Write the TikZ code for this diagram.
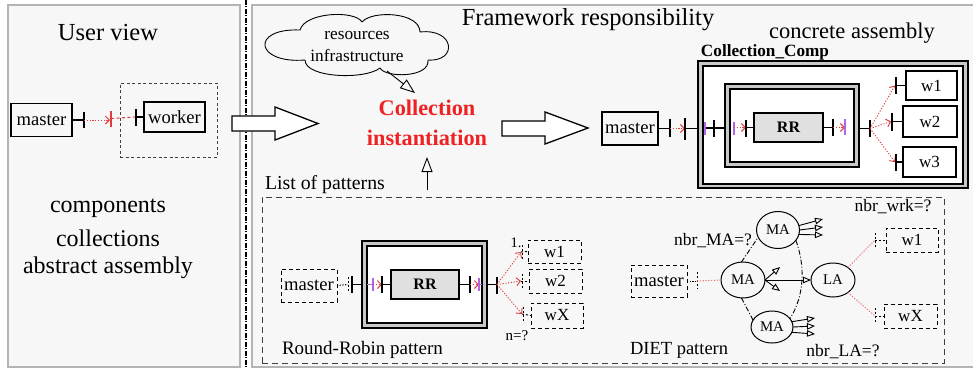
\documentclass[tikz,border=0pt]{standalone}
\usepackage{fontspec}
\setmainfont{Liberation Serif}
\usetikzlibrary{shapes.geometric,shapes.symbols,arrows.meta}
\definecolor{panelbg}{HTML}{F7F7F7}
\definecolor{panelln}{HTML}{B4B4B4}
\definecolor{dotred}{HTML}{E03C3C}
\definecolor{lightred}{HTML}{F07070}
\definecolor{titlered}{HTML}{EE2222}
\definecolor{purp}{HTML}{B266E6}
\definecolor{bandgray}{HTML}{C8C8C8}
\definecolor{rrgray}{HTML}{E0E0E0}
\definecolor{dashgray}{HTML}{404040}
\newcommand\fsz[1]{\fontsize{#1}{#1}\selectfont}
\begin{document}
\begin{tikzpicture}[x=1pt,y=-1pt,
  every node/.style={inner sep=0pt,outer sep=0pt},
  sbox/.style={draw, line width=1.1pt},
  dbox/.style={draw, line width=1pt, dash pattern=on 4pt off 3pt},
  wire/.style={line width=1.1pt},
  pbar/.style={line width=1.2pt},
  ppbar/.style={line width=1.2pt, draw=purp},
  dbar/.style={line width=1pt, dash pattern=on 2pt off 2pt},
  bdot/.style={line width=1pt, dash pattern=on 1.2pt off 1.5pt},
  reddot/.style={draw=dotred, line width=0.9pt, dash pattern=on 1.2pt off 1.6pt, -{Straight Barb[length=4pt,width=8pt]}},
  ldot/.style={draw=lightred, line width=1pt, dash pattern=on 1.2pt off 1.6pt},
  hollow/.style={line width=0.9pt, -{Triangle[open,length=15pt,width=11pt]}},
  small/.style={line width=0.9pt, -{Triangle[open,length=8pt,width=6.5pt]}},
  dashdot/.style={line width=0.9pt, dash pattern=on 5pt off 2pt on 1pt off 2pt},
  bigarrow/.style={draw, fill=white, line width=1.3pt, line join=miter},
  dbl/.style={draw, line width=1.3pt},
  ell/.style={ellipse, draw, line width=1pt, font=\fsz{14.8}}
]
\useasboundingbox (0,0) rectangle (973,368);
\clip (0,0) rectangle (973,368);
% panels
\draw[panelln, fill=panelbg, line width=1.3pt] (8,5) rectangle (240,367);
\draw[panelln, fill=panelbg, line width=1.3pt] (252,5) rectangle (990,367);
\draw[line width=1.3pt, dash pattern=on 4.5pt off 1.5pt on 1.2pt off 1.8pt] (246,0) -- (246,368);

% ---------- user view ----------
\node[font=\fsz{24.5}] (uv) at (108,33) {User view};
\node[draw=dashgray, dash pattern=on 3pt off 2.5pt, line width=0.9pt, minimum width=97pt, minimum height=74pt] (ucoll) at (168.5,120) {};
\node[sbox, minimum width=61pt, minimum height=33pt, font=\fsz{18.6}] (um) at (41.5,120) {master};
\node[sbox, minimum width=61pt, minimum height=30pt, font=\fsz{18.6}] (uw) at (174.5,117) {worker};
\coordinate (u1) at (84,120);
\coordinate (u2) at (110,120);
\coordinate (u2b) at (111,118.5);
\coordinate (u3) at (136,117);
\draw[wire] (um.east) -- (u1);
\draw[pbar] (84,112) -- (84,128);
\draw[reddot] (u1) -- (u2);
\draw[pbar, draw=dotred] (111,111) -- (111,127);
\draw[dotred, line width=1.1pt, dash pattern=on 3pt off 2.5pt] (u2b) -- (u3);
\draw[pbar] (136,109) -- (136,126);
\draw[wire] (u3) -- (uw.west);
\node[font=\fsz{24}] (t1) at (108,208) {components};
\node[font=\fsz{24}] (t2) at (108,238) {collections};
\node[font=\fsz{24}] (t3) at (108,268) {abstract assembly};

% big arrows
\draw[bigarrow] (232,116) -- (275,116) -- (275,107) -- (318,123.5) -- (275,140) -- (275,131) -- (232,131) -- cycle;
\draw[bigarrow] (502,121) -- (545,121) -- (545,112) -- (588,128) -- (545,144) -- (545,136) -- (502,136) -- cycle;

% ---------- framework ----------
\node[font=\fsz{24.5}] (fr) at (588,20) {Framework responsibility};
% cloud drawn as a path
\draw[line width=0.9pt, line join=round]
  (300,30) .. controls (305,12) and (355,10) .. (362,22)
  .. controls (372,10) and (420,12) .. (420,32)
  .. controls (455,28) and (458,62) .. (428,60)
  .. controls (430,78) and (385,78) .. (380,68)
  .. controls (365,80) and (305,78) .. (305,60)
  .. controls (255,64) and (250,28) .. (300,30) -- cycle;
\node[align=center, font=\fontsize{17.3}{22}\selectfont] (cloudtxt) at (357,47) {resources\\infrastructure};
\node[font=\fontsize{22.3}{30}\selectfont\bfseries, text=titlered, align=center] (ci) at (427,123) {Collection\\instantiation};
\coordinate (cloudstart) at (387,71);
\coordinate (cloudtip) at (415,93);
\draw[hollow] (cloudstart) -- (cloudtip);
\coordinate (upstart) at (427,190);
\coordinate (upend) at (427,157);
\draw[hollow] (upstart) -- (upend);

% ---------- concrete assembly ----------
\node[font=\fsz{22.5}] (ca) at (852,33) {concrete assembly};
\node[font=\fsz{17.2}\bfseries] (ccl) at (765,52) {Collection\_Comp};
\node[dbl, fill=bandgray, minimum width=270pt, minimum height=127pt] (cco) at (833,124.5) {};
\node[dbl, fill=white, minimum width=260pt, minimum height=118pt] (cci) at (833,125) {};
\node[dbl, fill=bandgray, minimum width=134pt, minimum height=83pt] (rro) at (792,125.5) {};
\node[dbl, fill=white, minimum width=124pt, minimum height=73pt] (rri) at (792,125.5) {};
\node[dbl, fill=rrgray, minimum width=69pt, minimum height=29pt, font=\fsz{16}\bfseries] (rr) at (788.5,127.5) {RR};
\node[sbox, minimum width=56pt, minimum height=33pt, font=\fsz{18.6}] (cm) at (630,128.5) {master};
\node[sbox, minimum width=51pt, minimum height=29pt, font=\fsz{17}] (cw1) at (931.5,85.5) {w1};
\node[sbox, minimum width=54pt, minimum height=31pt, font=\fsz{17}] (cw2) at (930,121.5) {w2};
\node[sbox, minimum width=53pt, minimum height=30pt, font=\fsz{17}] (cw3) at (929.5,162) {w3};
\coordinate (c1) at (670,128.5);
\coordinate (c2) at (685,128.5);
\draw[wire] (cm.east) -- (c1);
\draw[pbar] (670,119) -- (670,137);
\draw[reddot] (c1) -- (c2);
\draw[pbar] (685,118) -- (685,140);
\draw[wire] (c2) -- (cco.west |- c2);
\coordinate (c3) at (705,128);
\coordinate (c4) at (714,128);
\draw[wire] (c3) -- (rro.west |- c3);
\draw[ppbar] (705,122) -- (705,135);
\draw[pbar] (714,120) -- (714,137);
\coordinate (c5) at (734,127.5);
\coordinate (c6) at (746,127.5);
\draw[ppbar] (734,122) -- (734,135);
\draw[reddot] (c5) -- (c6);
\draw[pbar] (746,120) -- (746,137);
\draw[wire] (c6) -- (rr.west);
\coordinate (c7) at (833,127.5);
\coordinate (c8) at (845,127.5);
\draw[wire] (rr.east) -- (c7);
\draw[pbar] (833,119) -- (833,136);
\draw[reddot] (c7) -- (c8);
\draw[ppbar] (845,119) -- (845,135);
\coordinate (c9) at (870,128.5);
\draw[wire] (rro.east |- c9) -- (c9);
\draw[pbar] (870,120) -- (870,137);
\coordinate (cp1) at (895,85.5);
\coordinate (cp2) at (891,121.5);
\coordinate (cp3) at (895,162);
\draw[reddot] (c9) -- (cp1);
\draw[reddot] (c9) -- (cp2);
\draw[reddot] (c9) -- (cp3);
\draw[pbar] (896,77) -- (896,94);
\draw[pbar] (892,113) -- (892,131);
\draw[pbar] (896,154) -- (896,171);
\draw[wire] (cp1) -- (cw1.west);
\draw[wire] (cp2) -- (cw2.west);
\draw[wire] (cp3) -- (cw3.west);

% ---------- list of patterns ----------
\node[font=\fsz{19.8}, anchor=west] (lop) at (265,185) {List of patterns};
\node[draw=dashgray, line width=1pt, dash pattern=on 6pt off 4pt, minimum width=682pt, minimum height=166pt] (lpbox) at (603,280) {};

% Round-Robin pattern
\node[dbox, minimum width=56pt, minimum height=33pt, font=\fsz{18.6}] (rm) at (309,285.5) {master};
\node[dbl, fill=bandgray, minimum width=125pt, minimum height=87pt] (pro) at (424.5,284.5) {};
\node[dbl, fill=white, minimum width=115pt, minimum height=77pt] (pri) at (424.5,284.5) {};
\node[dbl, fill=rrgray, minimum width=68pt, minimum height=29pt, font=\fsz{16}\bfseries] (prr) at (425,284.5) {RR};
\coordinate (r1) at (348,284.5);
\coordinate (r2) at (352,284.5);
\draw[bdot] (rm.east) -- (r1);
\draw[dbar] (348,277) -- (348,292);
\draw[pbar] (352,276) -- (352,293);
\draw[wire] (r2) -- (pro.west);
\coordinate (r3) at (373,284.5);
\coordinate (r4) at (382,284.5);
\draw[line width=1.1pt, purp] (pri.west) -- (r3);
\draw[ppbar] (373,278) -- (373,291);
\draw[reddot] (r3) -- (r4);
\draw[pbar] (382,276) -- (382,293);
\draw[wire] (r4) -- (prr.west);
\coordinate (r5) at (470,284.5);
\coordinate (r6) at (479,284.5);
\draw[wire] (prr.east) -- (r5);
\draw[pbar] (470,276) -- (470,293);
\draw[reddot] (r5) -- (r6);
\draw[ppbar] (479,278) -- (479,291);
\draw[line width=1.1pt, purp] (r6) -- (pri.east);
\coordinate (r7) at (497,284.5);
\draw[wire] (pro.east) -- (r7);
\draw[pbar] (497,277) -- (497,294);
\node[dbox, minimum width=53pt, minimum height=23pt, font=\fsz{17}] (rw1) at (554.5,251.5) {w1};
\node[dbox, minimum width=53pt, minimum height=24pt, font=\fsz{17}] (rw2) at (555.5,281) {w2};
\node[dbox, minimum width=52pt, minimum height=25pt, font=\fsz{17}] (rwx) at (557,315.5) {wX};
\coordinate (rp1) at (521,252);
\coordinate (rp2) at (521,281);
\coordinate (rpx) at (522,314);
\draw[reddot] (r7) -- (rp1);
\draw[reddot] (r7) -- (rp2);
\draw[reddot] (r7) -- (rpx);
\draw[dbar] (522,245) -- (522,259);
\draw[dbar] (522,274) -- (522,288);
\draw[dbar] (523,307) -- (523,321);
\draw[dbar] (rp1) -- (rw1.west);
\draw[dbar] (rp2) -- (rw2.west);
\draw[dbar] (rpx) -- (rwx.west);
\node[font=\fsz{14.5}] (one) at (516,243) {1.};
\node[font=\fsz{15}] (nq) at (517,336) {n=?};
\node[font=\fsz{19}, anchor=west] (rrp) at (282,350) {Round-Robin pattern};

% DIET pattern
\node[dbox, minimum width=56pt, minimum height=32pt, font=\fsz{18.6}] (dm) at (659,281) {master};
\node[ell, minimum width=44pt, minimum height=36pt] (ma) at (743,280) {MA};
\node[ell, minimum width=43pt, minimum height=37pt] (mat) at (778,230) {MA};
\node[ell, minimum width=42pt, minimum height=32pt] (mab) at (772,327) {MA};
\node[ell, minimum width=44pt, minimum height=34pt] (la) at (833,280) {LA};
\coordinate (d1) at (697,281);
\draw[bdot] (dm.east) -- (d1);
\draw[dbar] (697,272) -- (697,289);
\draw[ldot] (d1) -- (ma.west);
\draw[small] (ma.east) -- (la.west);
\coordinate (ma1) at (780,267);
\coordinate (ma2) at (780,291);
\draw[small] (ma.east) -- (ma1);
\draw[small] (ma.east) -- (ma2);
\coordinate (mt1) at (823,219);
\coordinate (mt2) at (823,227);
\coordinate (mt3) at (823,235);
\draw[small] (mat.12) -- (mt1);
\draw[small] (mat.east) -- (mt2);
\draw[small] (mat.-12) -- (mt3);
\coordinate (mb1) at (815,318);
\coordinate (mb2) at (815,326);
\coordinate (mb3) at (815,334);
\draw[small] (mab.15) -- (mb1);
\draw[small] (mab.east) -- (mb2);
\draw[small] (mab.-15) -- (mb3);
\draw[dashdot] (ma.95) -- (mat.200);
\draw[dashdot] (ma.-95) -- (mab.160);
\draw[dashdot] (mat.-30) .. controls (805,265) and (805,295) .. (mab.25);
\node[dbox, minimum width=52pt, minimum height=24pt, font=\fsz{17}] (dw1) at (912,240) {w1};
\node[dbox, minimum width=53pt, minimum height=24pt, font=\fsz{17}] (dwx) at (910.5,316) {wX};
\coordinate (dp1) at (875,240);
\coordinate (dpx) at (875,316);
\draw[ldot] (la.40) -- (dp1);
\draw[ldot] (la.-40) -- (dpx);
\draw[dbar] (875,233) -- (875,248);
\draw[dbar] (875,308) -- (875,323);
\draw[dbar] (dp1) -- (dw1.west);
\draw[dbar] (dpx) -- (dwx.west);
\node[font=\fsz{17.5}] (nw) at (893,207) {nbr\_wrk=?};
\node[font=\fsz{17.5}] (nm) at (713,241) {nbr\_MA=?};
\node[font=\fsz{17.5}] (nl) at (843,352) {nbr\_LA=?};
\node[font=\fsz{18.5}, anchor=west] (dp) at (630,350) {DIET pattern};
\end{tikzpicture}
\end{document}
